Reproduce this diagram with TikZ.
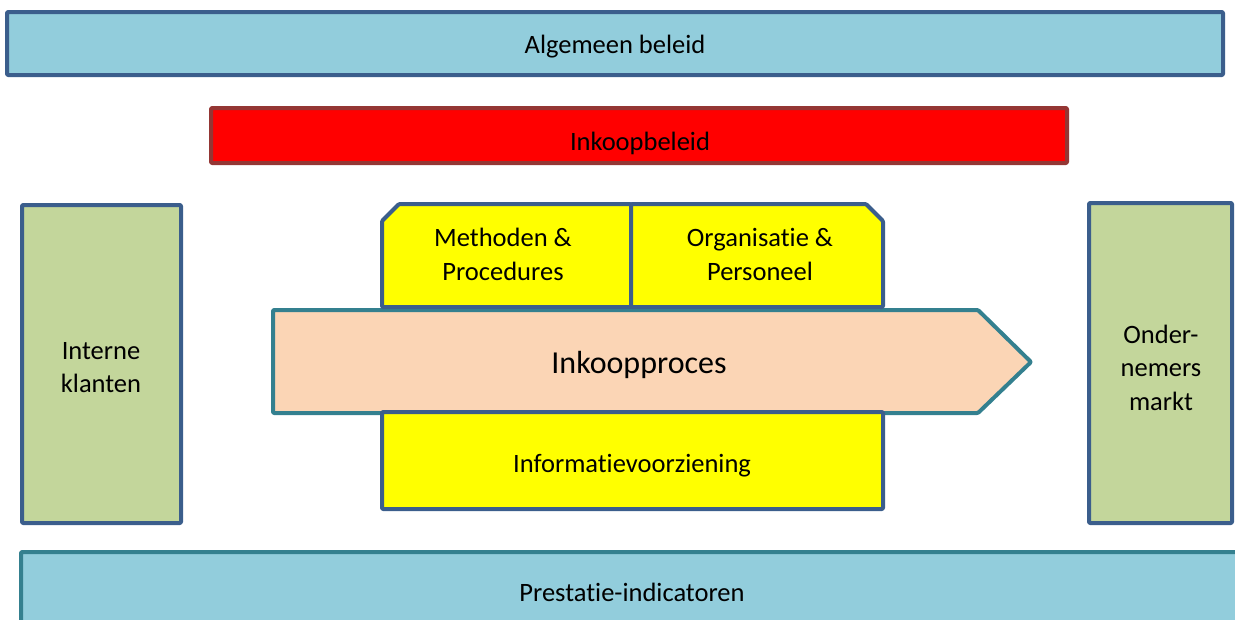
\documentclass[tikz,border=0pt]{standalone}
\usepackage{fontspec}
\setmainfont{Carlito}[RawFeature={-liga}]
\definecolor{lblue}{HTML}{92CDDC}
\definecolor{dblue}{HTML}{3B5E8C}
\definecolor{teal2}{HTML}{34808F}
\definecolor{rbord}{HTML}{943634}
\definecolor{lgreen}{HTML}{C3D69B}
\definecolor{peach}{HTML}{FBD5B5}
\definecolor{yel}{HTML}{FFFF00}
\tikzset{
  boxbase/.style={line width=4pt, line join=round, rounded corners=1pt},
  rectbox/.style={boxbase, draw=dblue, rectangle, inner sep=0pt, align=center},
  txt/.style={font=\fontsize{26.5}{33.5}\selectfont, align=center, inner sep=0pt}
}
\begin{document}
\begin{tikzpicture}[x=1pt,y=-1pt]
\useasboundingbox (0,0) rectangle (1235,619);
\begin{scope}
\clip (0,0) rectangle (1235,619);
% Algemeen beleid
\node[rectbox, fill=lblue, minimum width=1216pt, minimum height=63pt] (alg) at (615,43.5) {};
\node[txt] (algt) at (615,46.5) {Algemeen beleid};
% Inkoopbeleid
\node[rectbox, draw=rbord, fill=red, minimum width=856pt, minimum height=55pt] (ink) at (639,135.5) {};
\node[txt] (inkt) at (640,143.5) {Inkoopbeleid};
% side boxes
\node[rectbox, fill=lgreen, minimum width=159pt, minimum height=318pt] (klant) at (101.5,364) {};
\node[txt] (klantt) at (101,367.5) {Interne\\klanten};
\node[rectbox, fill=lgreen, minimum width=143pt, minimum height=320pt] (markt) at (1160.5,363) {};
\node[txt] (marktt) at (1161,367.5) {Onder-\\nemers\\markt};
% process arrow
\path[boxbase, draw=teal2, fill=peach] (273,310) -- (978,310) -- (1031,362) -- (978,413) -- (273,413) -- cycle;
\node[txt, font=\fontsize{32}{38}\selectfont] (proc) at (639,364.5) {Inkoopproces};
% top yellow boxes
\path[boxbase, draw=dblue, fill=yel] (382,307) -- (382,221) -- (399,204) -- (631,204) -- (631,307) -- cycle;
\path[boxbase, draw=dblue, fill=yel] (631,204) -- (866,204) -- (883,221) -- (883,307) -- (631,307) -- cycle;
\node[txt] (meth) at (503,254.5) {Methoden \&\\Procedures};
\node[txt] (org) at (760,254.5) {Organisatie \&\\Personeel};
% info box
\node[rectbox, fill=yel, minimum width=501pt, minimum height=97pt] (info) at (632.5,460.5) {};
\node[txt] (infot) at (632,465.5) {Informatievoorziening};
% Prestatie
\node[rectbox, draw=teal2, fill=lblue, minimum width=1230pt, minimum height=90pt] (pres) at (636,597) {};
\node[txt] (prest) at (632,592.5) {Prestatie-indicatoren};
\end{scope}
\end{tikzpicture}
\end{document}
